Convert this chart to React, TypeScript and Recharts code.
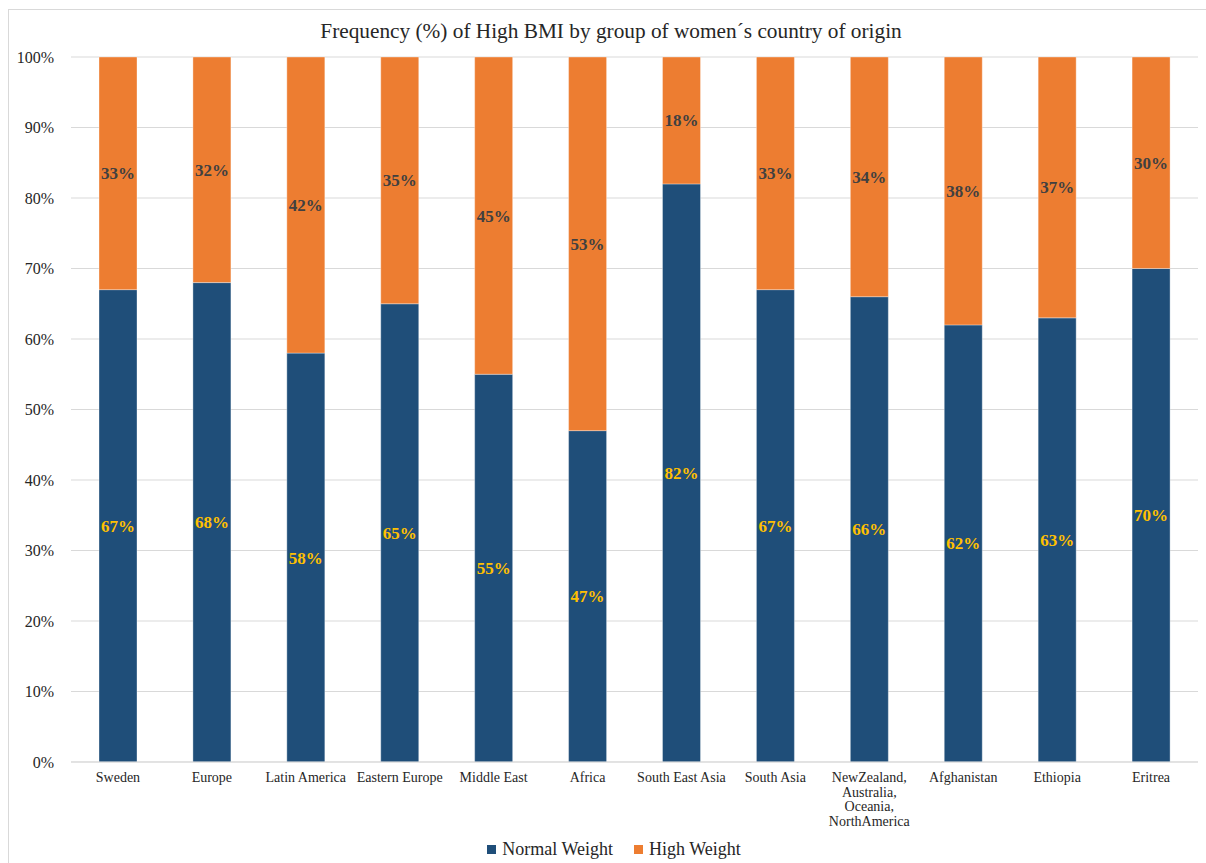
import React from "react"
import {
  BarChart,
  Bar,
  XAxis,
  YAxis,
  CartesianGrid,
  Legend,
  LabelList,
} from "recharts"

const categories = [
  "Sweden",
  "Europe",
  "Latin America",
  "Eastern Europe",
  "Middle East",
  "Africa",
  "South East Asia",
  "South Asia",
  "NewZealand, Australia, Oceania, NorthAmerica",
  "Afghanistan",
  "Ethiopia",
  "Eritrea",
]
const normalWeight = [67, 68, 58, 65, 55, 47, 82, 67, 66, 62, 63, 70]
const highWeight = [33, 32, 42, 35, 45, 53, 18, 33, 34, 38, 37, 30]
const yTicks = [0, 10, 20, 30, 40, 50, 60, 70, 80, 90, 100]
const seriesOrder = ["Normal Weight", "High Weight"]

const data = categories.map((name, i) => ({
  name,
  normal: normalWeight[i],
  high: highWeight[i],
}))

const FONT = "Liberation Serif"
const BLUE = "#1F4E79"
const ORANGE = "#ED7D31"

function CategoryTick({ x, y, payload }: any) {
  // long labels break after each comma
  const lines = String(payload.value).split(/(?<=,)\s+/)
  return (
    <text
      x={x}
      y={y + 12}
      textAnchor="middle"
      fontFamily={FONT}
      fontSize={14}
      fill="#262626"
    >
      {lines.map((line, i) => (
        <tspan key={i} x={x} dy={i === 0 ? 0 : 14.5}>
          {line}
        </tspan>
      ))}
    </text>
  )
}

function PercentTick({ x, y, payload }: any) {
  return (
    <text
      x={x}
      y={y}
      dy={5.5}
      textAnchor="end"
      fontFamily={FONT}
      fontSize={16}
      fill="#262626"
    >
      {`${payload.value}%`}
    </text>
  )
}

function LegendContent({ payload }: any) {
  const items = [...(payload || [])].sort(
    (a: any, b: any) => seriesOrder.indexOf(a.value) - seriesOrder.indexOf(b.value)
  )
  return (
    <div
      style={{
        display: "flex",
        justifyContent: "center",
        alignItems: "center",
        gap: 21,
        fontFamily: FONT,
        fontSize: 18,
        color: "#262626",
      }}
    >
      {items.map((entry: any) => (
        <div key={entry.value} style={{ display: "flex", alignItems: "center" }}>
          <span
            style={{
              width: 9,
              height: 9,
              background: entry.color,
              display: "inline-block",
              marginRight: 6,
            }}
          />
          {entry.value}
        </div>
      ))}
    </div>
  )
}

export default function App() {
  return (
    <div
      style={{
        position: "fixed",
        left: 0,
        top: 0,
        width: 1206,
        height: 863,
        overflow: "hidden",
        background: "#fff",
      }}
    >
      <div
        style={{
          position: "absolute",
          left: 8,
          top: 9,
          width: 1220,
          height: 880,
          border: "1px solid #d9d9d9",
        }}
      />
      <div
        style={{
          position: "absolute",
          left: 0,
          top: 19,
          width: 1222,
          textAlign: "center",
          fontFamily: FONT,
          fontSize: 21.3,
          color: "#262626",
        }}
      >
        Frequency (%) of High BMI by group of women´s country of origin
      </div>
      <BarChart
        width={1206}
        height={863}
        data={data}
        margin={{ top: 57, right: 8, left: 0, bottom: 31 }}
        barSize={38}
        style={{ position: "absolute", left: 0, top: 0 }}
      >
        <CartesianGrid vertical={false} stroke="#d9d9d9" />
        <XAxis
          dataKey="name"
          height={70}
          interval={0}
          tickLine={false}
          axisLine={{ stroke: "#d9d9d9" }}
          tick={<CategoryTick />}
        />
        <YAxis
          width={71}
          domain={[0, 100]}
          ticks={yTicks}
          tickLine={false}
          axisLine={false}
          tickSize={0}
          tickMargin={17}
          tick={<PercentTick />}
        />
        <Legend
          verticalAlign="middle"
          layout="horizontal"
          align="center"
          content={<LegendContent />}
          wrapperStyle={{ top: 839, left: 11, width: 1206 }}
        />
        <Bar
          dataKey="normal"
          name="Normal Weight"
          stackId="bmi"
          fill={BLUE}
          stroke="#ffffff"
          strokeOpacity={0.35}
          isAnimationActive={false}
        >
          <LabelList
            dataKey="normal"
            position="center"
            formatter={(v: any) => `${v}%`}
            fill="#FFC000"
            fontFamily={FONT}
            fontSize={17}
            fontWeight="bold"
          />
        </Bar>
        <Bar
          dataKey="high"
          name="High Weight"
          stackId="bmi"
          fill={ORANGE}
          stroke="#ffffff"
          strokeOpacity={0.35}
          isAnimationActive={false}
        >
          <LabelList
            dataKey="high"
            position="center"
            formatter={(v: any) => `${v}%`}
            fill="#404040"
            fontFamily={FONT}
            fontSize={17}
            fontWeight="bold"
          />
        </Bar>
      </BarChart>
    </div>
  )
}
